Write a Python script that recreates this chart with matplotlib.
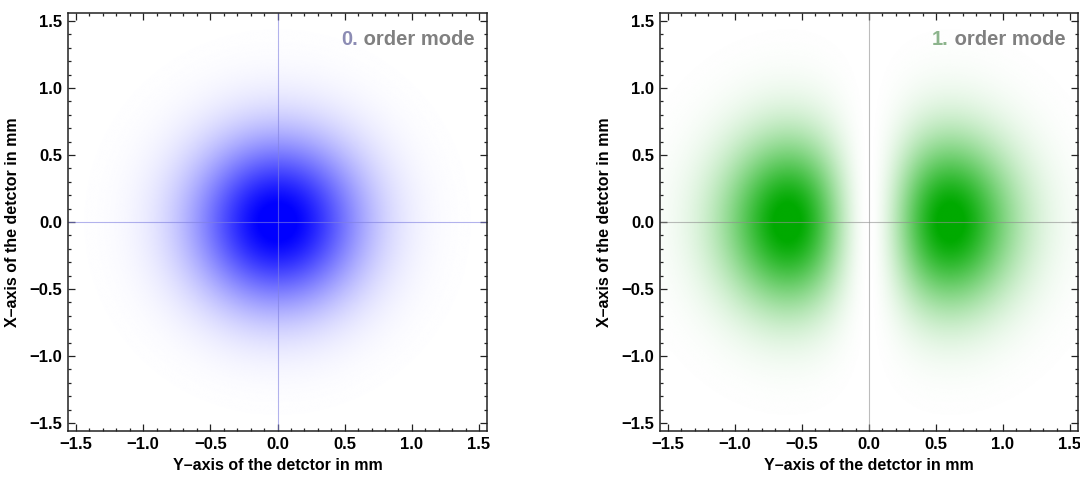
import numpy as np
import matplotlib.pyplot as plt
from matplotlib.colors import LinearSegmentedColormap
from matplotlib.ticker import MultipleLocator

plt.rcParams['font.family'] = ['Liberation Sans', 'DejaVu Sans']
plt.rcParams['font.weight'] = 'bold'

# beam parameters (mm)
waist = 0.86
extent_mm = 1.56
mode_titles = ['0.', '1.']
mode_numbers = [0, 1]
peak_colors = ['#0000ff', '#00aa00']
number_colors = ['#8c8cb4', '#8cb48c']
zero_line_colors = ['#8080e0', '#909090']
x_label = 'Y\u2013axis of the detctor in mm'
y_label = 'X\u2013axis of the detctor in mm'


def mode_intensity(n, x, y):
    # Hermite-Gauss TEM_n0 intensity, normalised to 1
    g = np.exp(-2 * (x**2 + y**2) / waist**2)
    if n == 0:
        I = g
    else:
        I = (x / waist)**2 * g
    return I / I.max()


grid = np.linspace(-extent_mm, extent_mm, 600)
X, Y = np.meshgrid(grid, grid)

fig = plt.figure(figsize=(10.8, 4.79), dpi=100)
positions = [[68 / 1080, 48 / 479, 419 / 1080, 418 / 479],
             [660 / 1080, 48 / 479, 418 / 1080, 418 / 479]]

for i, n in enumerate(mode_numbers):
    ax = fig.add_axes(positions[i])
    cmap = LinearSegmentedColormap.from_list('m%d' % n, ['#ffffff', peak_colors[i]])
    I = mode_intensity(n, X, Y)
    ax.imshow(I, cmap=cmap, vmin=0, vmax=0.95, origin='lower',
              extent=[-extent_mm, extent_mm, -extent_mm, extent_mm],
              interpolation='bilinear', aspect='auto')
    ax.axhline(0, color=zero_line_colors[i], lw=0.8, alpha=0.6)
    ax.axvline(0, color=zero_line_colors[i], lw=0.8, alpha=0.6)
    ax.set_xlim(-extent_mm, extent_mm)
    ax.set_ylim(-extent_mm, extent_mm)

    ax.xaxis.set_major_locator(MultipleLocator(0.5))
    ax.yaxis.set_major_locator(MultipleLocator(0.5))
    ax.xaxis.set_minor_locator(MultipleLocator(0.1))
    ax.yaxis.set_minor_locator(MultipleLocator(0.1))
    ax.xaxis.set_major_formatter(lambda v, p: ('%.1f' % v).replace('-', '\u2212'))
    ax.yaxis.set_major_formatter(lambda v, p: ('%.1f' % v).replace('-', '\u2212'))
    ax.tick_params(which='both', direction='in', top=True, right=True,
                   labelsize=12, width=0.9, color='#222222', pad=4)
    ax.tick_params(which='major', length=5)
    ax.tick_params(which='minor', length=2.5)
    for lab in ax.get_xticklabels() + ax.get_yticklabels():
        lab.set_fontweight('bold')
    for s in ax.spines.values():
        s.set_linewidth(1.1)
        s.set_color('#222222')

    ax.set_xlabel(x_label, fontsize=11.5, fontweight='bold', labelpad=5)
    ax.set_ylabel(y_label, fontsize=11.5, fontweight='bold', labelpad=7)

    # title in the top-right corner: number coloured, rest grey
    t = ax.text(0.97, 0.96, ' order mode', transform=ax.transAxes,
                ha='right', va='top', fontsize=14.5, fontweight='bold',
                color='#808080')
    fig.canvas.draw()
    bb = t.get_window_extent().transformed(ax.transAxes.inverted())
    ax.text(bb.x0, 0.96, mode_titles[i], transform=ax.transAxes,
            ha='right', va='top', fontsize=14.5, fontweight='bold',
            color=number_colors[i])

fig.savefig('out.png', dpi=100)
